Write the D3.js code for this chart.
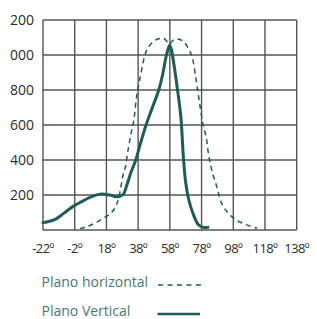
<!DOCTYPE html>
<html>
<head>
<meta charset="utf-8">
<script src="https://cdn.jsdelivr.net/npm/d3@7"></script>
<style>
  body { margin: 0; background: #fff; }
  svg { display: block; }
  text { font-family: "Open Sans", "DejaVu Sans", sans-serif; }
</style>
</head>
<body>
<script>
// x ticks (degrees) and their labels
var xTicks = [-22, -2, 18, 38, 58, 78, 98, 118, 138];
var xTickLabels = ["-22º", "-2º", "18º", "38º", "58º", "78º", "98º", "118º", "138º"];

// y ticks, labels as printed (leading digit cut off at the top)
var yTicks = [0, 200, 400, 600, 800, 1000, 1200];
var yTickLabels = ["", "200", "400", "600", "800", "000", "200"];

// Plano Vertical (solid)
var vertDeg = [-22, -18, -14, -9, -3, 3, 9, 14, 20, 24, 26.5, 28.7, 31, 33.5, 36.5, 39, 43, 47, 51, 53.5, 55.6, 57.3, 58, 59, 61, 63, 65, 66.5, 68, 70, 73, 76, 79, 82];
var vertVal = [42, 50, 62, 95, 135, 165, 192, 205, 200, 190, 192, 205, 260, 330, 400, 480, 600, 700, 800, 890, 990, 1045, 1055, 1030, 920, 790, 640, 420, 270, 170, 85, 30, 15, 15];

// Plano horizontal (dashed)
var horDeg = [1.3, 5, 10, 16, 20, 23, 25, 26.6, 28.6, 30, 31.5, 33.5, 35.3, 37, 39, 42, 43.5, 46.5, 50, 54, 56.5, 58, 59.5, 62.5, 66.5, 69.5, 72, 74.5, 76, 77.5, 79, 80.9, 82.3, 84.4, 87.6, 90.7, 95, 100, 106.5, 113];
var horVal = [8, 18, 36, 67, 90, 120, 160, 220, 320, 360, 450, 550, 630, 760, 860, 990, 1030, 1067, 1090, 1095, 1075, 1062, 1080, 1092, 1078, 1040, 990, 860, 770, 680, 600, 530, 440, 343, 248, 152, 95, 57, 29, 10];

var seriesNames = ["Plano horizontal", "Plano Vertical"];

var W = 317, H = 319;
var teal = "#1d5c57";

var svg = d3.select("body").append("svg")
  .attr("width", W)
  .attr("height", H);

var x = d3.scaleLinear().domain([-22, 138]).range([43, 296.7]);
var y = d3.scaleLinear().domain([0, 1200]).range([230, 20]);

// grid
var grid = svg.append("g").attr("stroke", "#555").attr("stroke-width", 1.4);
grid.selectAll(".vx").data(xTicks).enter().append("line")
  .attr("x1", function(d) { return x(d); })
  .attr("x2", function(d) { return x(d); })
  .attr("y1", y(0)).attr("y2", y(1200));
grid.selectAll(".hy").data(yTicks).enter().append("line")
  .attr("y1", function(d) { return y(d); })
  .attr("y2", function(d) { return y(d); })
  .attr("x1", x(-22)).attr("x2", x(138));

// tick labels
svg.selectAll(".yl").data(yTicks).enter().append("text")
  .attr("x", 34)
  .attr("y", function(d) { return y(d); })
  .attr("dy", "0.36em")
  .attr("text-anchor", "end")
  .attr("font-size", 14)
  .attr("fill", "#2b2b2b")
  .text(function(d, i) { return yTickLabels[i]; });

svg.selectAll(".xl").data(xTicks).enter().append("text")
  .attr("x", function(d) { return x(d); })
  .attr("y", 253)
  .attr("text-anchor", "middle")
  .attr("font-size", 13)
  .attr("letter-spacing", -0.6)
  .attr("fill", "#2b2b2b")
  .text(function(d, i) { return xTickLabels[i]; });

var line = d3.line()
  .x(function(d) { return x(d[0]); })
  .y(function(d) { return y(d[1]); })
  .curve(d3.curveCatmullRom.alpha(0.5));

svg.append("path")
  .datum(d3.zip(horDeg, horVal))
  .attr("d", line)
  .attr("fill", "none")
  .attr("stroke", teal)
  .attr("stroke-width", 1.5)
  .attr("stroke-dasharray", "5,4");

svg.append("path")
  .datum(d3.zip(vertDeg, vertVal))
  .attr("d", line)
  .attr("fill", "none")
  .attr("stroke", teal)
  .attr("stroke-width", 3)
  .attr("stroke-linejoin", "round")
  .attr("stroke-linecap", "round");

// legend
var legend = svg.append("g");
legend.selectAll("text").data(seriesNames).enter().append("text")
  .attr("x", 41.5)
  .attr("y", function(d, i) { return 287 + i * 29; })
  .attr("font-size", 14)
  .attr("fill", "#4a7774")
  .text(function(d) { return d; });

legend.append("line")
  .attr("x1", 158).attr("x2", 201)
  .attr("y1", 285).attr("y2", 285)
  .attr("stroke", teal).attr("stroke-width", 1.3)
  .attr("stroke-dasharray", "5,4.5");

legend.append("line")
  .attr("x1", 157.5).attr("x2", 200)
  .attr("y1", 314).attr("y2", 314)
  .attr("stroke", teal).attr("stroke-width", 2.7);
</script>
</body>
</html>
